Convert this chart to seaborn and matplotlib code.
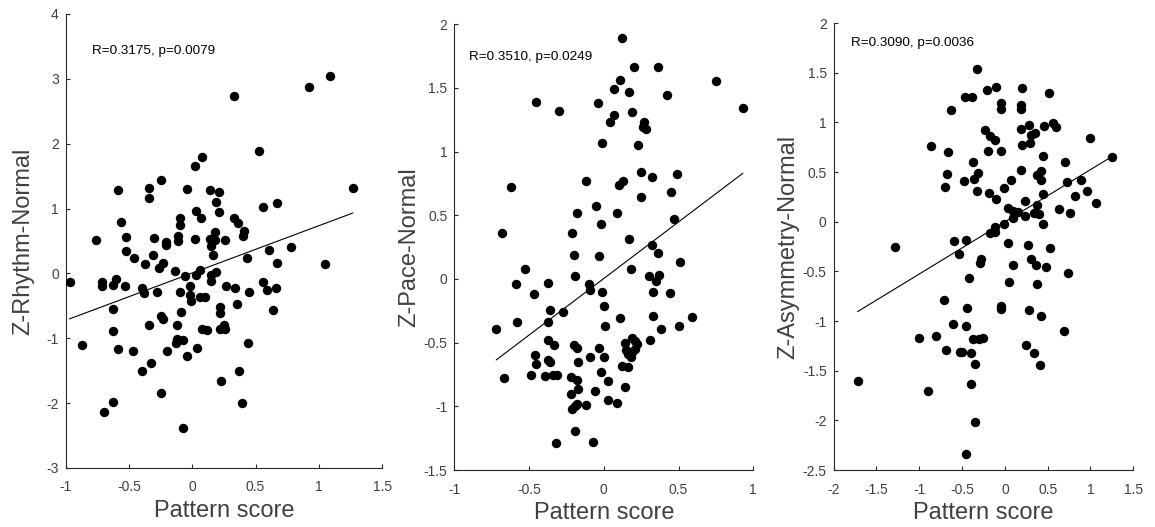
"""
plot.py - three scatter panels (Z-score vs pattern score) with fitted lines
"""

import numpy as np
import pandas as pd
import matplotlib
matplotlib.use("Agg")
import matplotlib.pyplot as plt
from matplotlib.ticker import FormatStrFormatter, MultipleLocator
import seaborn as sns

# -------------------------
# DATA
# -------------------------
rhythm_x = [1.09, 0.92, 0.33, 0.53, 0.08, 0.02, -0.25, -0.59, -0.34, -0.34, -0.04, 0.14, 0.21, 0.19,
            0.21, 0.03, 0.07, 1.27, 0.67, 0.56, 0.33, 0.36, -0.56, -0.10, -0.10, 0.41, 0.40, 0.18,
            -0.76, -0.52, -0.30, -0.11, -0.11, 0.02, 0.14, 0.18, 0.26, -0.21, -0.21, 0.15, -0.52,
            -0.31, 0.16, 0.61, 0.78, -0.46, 0.43, -0.37, -0.23, -0.26, 0.67, 1.05, -0.14, 0.06, 0.19,
            -0.97, -0.71, -0.71, -0.63, -0.60, -0.53, -0.40, -0.38, -0.28, -0.06, -0.02, 0.03, 0.15,
            0.15, -0.10, -0.02, -0.01, 0.06, 0.10, 0.27, 0.34, 0.45, 0.56, 0.59, 0.66, 0.64, 0.35,
            -0.63, -0.09, 0.22, 0.22, -0.25, -0.23, -0.34, -0.12, 0.08, 0.12, 0.22, 0.25, 0.26,
            -0.63, -0.12, -0.13, -0.07, -0.87, -0.59, -0.47, -0.20, 0.04, 0.44, -0.04, -0.33, -0.40,
            0.37, 0.23, -0.25, -0.70, -0.63, 0.39, -0.07]
rhythm_y = [3.05, 2.87, 2.74, 1.88, 1.80, 1.65, 1.44, 1.29, 1.31, 1.17, 1.30, 1.28, 1.25, 1.10,
            0.95, 0.96, 0.85, 1.32, 1.09, 1.02, 0.85, 0.78, 0.79, 0.85, 0.75, 0.65, 0.57, 0.64,
            0.52, 0.56, 0.55, 0.58, 0.50, 0.53, 0.53, 0.52, 0.51, 0.48, 0.44, 0.42, 0.35,
            0.29, 0.28, 0.36, 0.41, 0.24, 0.23, 0.14, 0.16, 0.08, 0.16, 0.15, 0.03, 0.06, 0.02,
            -0.14, -0.14, -0.20, -0.18, -0.09, -0.19, -0.22, -0.30, -0.29, -0.04, -0.19, -0.03, -0.02,
            -0.12, -0.29, -0.33, -0.42, -0.36, -0.36, -0.19, -0.22, -0.28, -0.14, -0.26, -0.23, -0.57, -0.47,
            -0.55, -0.59, -0.52, -0.61, -0.65, -0.71, -0.79, -0.79, -0.86, -0.87, -0.85, -0.79, -0.86,
            -0.89, -1.01, -1.08, -1.03, -1.10, -1.17, -1.20, -1.19, -1.15, -1.07, -1.28, -1.38, -1.51,
            -1.50, -1.66, -1.84, -2.13, -1.98, -2.00, -2.39]

pace_x = [0.12, 0.20, 0.36, 0.75, 0.11, 0.07, 0.17, 0.42, 0.93, -0.45, -0.30, -0.04, 0.07, 0.19,
          0.04, 0.27, 0.26, 0.28, -0.01, 0.23, 0.25, 0.32, 0.49, -0.12, 0.10, 0.13, -0.62, 0.25,
          0.45, -0.05, -0.18, 0.09, 0.47, -0.02, -0.68, -0.21, 0.17, 0.32, -0.20, -0.03, 0.36,
          0.51, -0.53, 0.18,
          -0.19, 0.30, 0.37, 0.35, -0.59, -0.37, -0.10, -0.09, -0.01, -0.47, 0.33, 0.44, 0.00,
          -0.36, -0.27, 0.11, 0.33, 0.59, -0.72, -0.58, -0.37, 0.01, 0.38, 0.50, -0.37, -0.33,
          -0.20, -0.18, -0.03, 0.19, 0.14, 0.21, 0.22, 0.21, 0.19, 0.17, 0.16, 0.18, 0.15, 0.31,
          -0.46, -0.45, -0.37, -0.36, -0.17, -0.09, 0.00, 0.12, 0.16, -0.67, -0.49, -0.39, -0.34,
          -0.31, -0.22, -0.18, -0.02, 0.03, -0.17, 0.14, -0.22, -0.06, -0.12, -0.18, -0.19, -0.21,
          0.03, 0.09, -0.19, -0.32, -0.07]
pace_y = [1.89, 1.66, 1.66, 1.55, 1.56, 1.49, 1.47, 1.44, 1.34, 1.39, 1.32, 1.38, 1.29, 1.31,
          1.23, 1.23, 1.19, 1.18, 1.07, 1.05, 0.84, 0.80, 0.82, 0.77, 0.74, 0.77, 0.72, 0.64,
          0.68, 0.57, 0.52, 0.52, 0.47, 0.43, 0.36, 0.36, 0.31, 0.27, 0.19, 0.18, 0.20,
          0.13, 0.08, 0.08,
          0.02, 0.02, 0.03, -0.02, -0.04, -0.03, -0.04, -0.09, -0.10, -0.12, -0.10, -0.11, -0.21,
          -0.24, -0.26, -0.31, -0.29, -0.30, -0.39, -0.34, -0.34, -0.37, -0.39, -0.37, -0.48, -0.52,
          -0.52, -0.54, -0.54, -0.46, -0.50, -0.49, -0.51, -0.55, -0.57, -0.57, -0.59, -0.61, -0.56, -0.48,
          -0.60, -0.67, -0.64, -0.65, -0.65, -0.61, -0.61, -0.68, -0.69, -0.78, -0.75, -0.76, -0.75,
          -0.75, -0.77, -0.79, -0.73, -0.80, -0.86, -0.85, -0.90, -0.88, -0.99, -0.98, -1.00, -1.02,
          -0.95, -0.97, -1.19, -1.29, -1.28]

asym_x = [-0.33, -0.21, -0.10, 0.20, 0.51, -0.47, -0.38, -0.04, -0.04, 0.19, 0.19, -0.63, 0.56,
          0.60, 0.46, 0.28, 0.19, 0.35, 0.30, -0.23, -0.17, -0.11, 1.00, -0.86, 0.20, 0.29, -0.66,
          -0.20, -0.04, 0.44, 1.25, -0.37, 0.70, -0.68, -0.31, 0.19, 0.38, 0.42, 0.42, -0.48,
          -0.36, 0.07, 0.72, 0.89, -0.70, -0.01, -0.32, -0.18, 0.96, 0.44, 0.82, -0.10, 0.23,
          1.07, 0.63, 0.37, 0.04, 0.09, 0.15, 0.09, 0.23, 0.34, 0.40, 0.76, 0.44, -0.01, -0.12,
          -0.11, -0.17, -1.28, -0.60, -0.46, 0.04, 0.27, 0.53, -0.54, -0.28, -0.29, 0.30, 0.09,
          0.36, 0.48, 0.74,
          -0.42, 0.05, 0.37, -0.71, -0.44, -0.05, -0.04, 0.28, 0.42, -0.61, -0.46, 0.69, -1.00,
          -0.81, -0.37, -0.30, -0.25, -0.69, -0.53, -0.50, -0.39, 0.25, 0.34, -0.35, 0.41, -1.72,
          -0.40, -0.90, -0.35, -0.45]
asym_y = [1.54, 1.33, 1.36, 1.35, 1.30, 1.26, 1.26, 1.20, 1.14, 1.18, 1.14, 1.13, 0.99,
          0.95, 0.96, 0.97, 0.93, 0.89, 0.87, 0.92, 0.86, 0.82, 0.84, 0.76, 0.77, 0.79, 0.70,
          0.71, 0.71, 0.66, 0.65, 0.60, 0.60, 0.48, 0.49, 0.52, 0.47, 0.51, 0.42, 0.41,
          0.43, 0.42, 0.40, 0.42, 0.35, 0.34, 0.31, 0.29, 0.31, 0.28, 0.26, 0.23, 0.21,
          0.19, 0.13, 0.17, 0.14, 0.11, 0.10, 0.04, 0.06, 0.09, 0.08, 0.09, -0.02, -0.02, -0.05,
          -0.10, -0.11, -0.25, -0.19, -0.18, -0.21, -0.23, -0.26, -0.32, -0.38, -0.42, -0.38, -0.44,
          -0.44, -0.46, -0.52,
          -0.57, -0.61, -0.63, -0.79, -0.87, -0.85, -0.88, -0.89, -0.95, -1.03, -1.05, -1.10, -1.17,
          -1.15, -1.18, -1.18, -1.17, -1.29, -1.31, -1.31, -1.32, -1.24, -1.32, -1.43, -1.44, -1.60,
          -1.63, -1.70, -2.02, -2.34]

y_labels = ["Z-Rhythm-Normal", "Z-Pace-Normal", "Z-Asymmetry-Normal"]
x_label = "Pattern score"
stats_text = ["R=0.3175, p=0.0079", "R=0.3510, p=0.0249", "R=0.3090, p=0.0036"]

x_limits = [(-1, 1.5), (-1, 1), (-2, 1.5)]
y_limits = [(-3, 4), (-1.5, 2), (-2.5, 2)]
y_steps = [1, 0.5, 0.5]
text_pos = [(-0.79, 3.43), (-0.90, 1.74), (-1.80, 1.80)]
ylabel_pads = [9, 2.5, 2.5]

# -------------------------
# STYLE
# -------------------------
sns.set_style("ticks")
plt.rcParams["font.family"] = ["Liberation Sans", "DejaVu Sans"]
plt.rcParams["axes.unicode_minus"] = False

AX_COLOR = "#262626"
LABEL_COLOR = "#404040"

fig = plt.figure(figsize=(11.55, 5.27), dpi=100)
ax_rects = [
    [0.0569, 0.112, 0.2739, 0.8615],
    [0.3933, 0.108, 0.2589, 0.8463],
    [0.7218, 0.108, 0.2594, 0.8482],
]

panels = [(rhythm_x, rhythm_y), (pace_x, pace_y), (asym_x, asym_y)]

for i, (xs, ys) in enumerate(panels):
    ax = fig.add_axes(ax_rects[i])
    df = pd.DataFrame({"x": xs, "y": ys})

    # black dots + least-squares line over the data range
    sns.scatterplot(data=df, x="x", y="y", ax=ax, color="black", s=46,
                    edgecolor="black", linewidth=0, zorder=3)
    sns.regplot(data=df, x="x", y="y", ax=ax, scatter=False, ci=None,
                truncate=True, line_kws={"color": "black", "linewidth": 0.8})

    ax.set_xlim(*x_limits[i])
    ax.set_ylim(*y_limits[i])
    ax.xaxis.set_major_locator(MultipleLocator(0.5))
    ax.yaxis.set_major_locator(MultipleLocator(y_steps[i]))
    ax.xaxis.set_major_formatter(FormatStrFormatter("%g"))
    ax.yaxis.set_major_formatter(FormatStrFormatter("%g"))

    sns.despine(ax=ax)
    for side in ["left", "bottom"]:
        ax.spines[side].set_color(AX_COLOR)
        ax.spines[side].set_linewidth(0.8)
    ax.tick_params(axis="both", direction="in", length=3, width=0.8,
                   colors=AX_COLOR, labelcolor=LABEL_COLOR, labelsize=10)
    ax.tick_params(axis="x", pad=9)
    ax.tick_params(axis="y", pad=5)

    ax.set_xlabel(x_label, fontsize=17, color=LABEL_COLOR, labelpad=4)
    ax.set_ylabel(y_labels[i], fontsize=17, color=LABEL_COLOR, labelpad=ylabel_pads[i])

    ax.text(text_pos[i][0], text_pos[i][1], stats_text[i], fontsize=9.7,
            color="black", va="center", ha="left")

fig.savefig("out.png", dpi=100)
